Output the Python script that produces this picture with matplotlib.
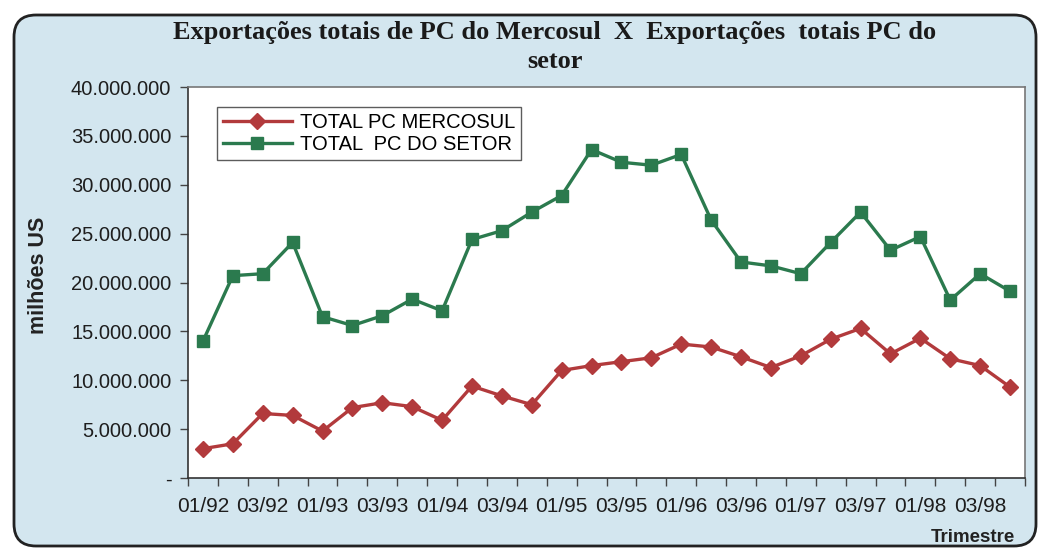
import matplotlib
matplotlib.use("Agg")
import matplotlib.pyplot as plt
from matplotlib.patches import FancyBboxPatch
from matplotlib.ticker import FuncFormatter

# quarterly values (US$), 01/92 .. 04/98
quarters = ["01/92", "02/92", "03/92", "04/92", "01/93", "02/93", "03/93", "04/93",
            "01/94", "02/94", "03/94", "04/94", "01/95", "02/95", "03/95", "04/95",
            "01/96", "02/96", "03/96", "04/96", "01/97", "02/97", "03/97", "04/97",
            "01/98", "02/98", "03/98", "04/98"]
mercosul = [3.0e6, 3.5e6, 6.6e6, 6.4e6, 4.8e6, 7.2e6, 7.7e6, 7.3e6,
            5.9e6, 9.4e6, 8.4e6, 7.5e6, 11.0e6, 11.5e6, 11.9e6, 12.3e6,
            13.7e6, 13.4e6, 12.4e6, 11.3e6, 12.5e6, 14.2e6, 15.3e6, 12.7e6,
            14.3e6, 12.2e6, 11.5e6, 9.3e6]
setor = [14.0e6, 20.7e6, 20.9e6, 24.1e6, 16.5e6, 15.6e6, 16.6e6, 18.3e6,
         17.1e6, 24.4e6, 25.3e6, 27.2e6, 28.9e6, 33.6e6, 32.3e6, 32.0e6,
         33.1e6, 26.4e6, 22.1e6, 21.7e6, 20.9e6, 24.1e6, 27.2e6, 23.3e6,
         24.7e6, 18.2e6, 20.9e6, 19.1e6]
yticks = [0, 5e6, 10e6, 15e6, 20e6, 25e6, 30e6, 35e6, 40e6]

RED = "#b23a3c"
GREEN = "#2b7a4e"
BG = "#d3e6ef"
SANS = "Liberation Sans"

W, H = 1056, 554
fig = plt.figure(figsize=(W / 100, H / 100), dpi=100)

# background panel (pixel coordinates)
bg = fig.add_axes([0, 0, 1, 1])
bg.set_xlim(0, W); bg.set_ylim(H, 0); bg.axis("off")
bg.add_patch(FancyBboxPatch((14, 15), W - 20 - 14, H - 8 - 15,
             boxstyle="round,pad=0,rounding_size=22",
             fc=BG, ec="#222222", lw=2.0))

ax = fig.add_axes([188 / W, 1 - 478 / H, (1025 - 188) / W, (478 - 87) / H])
x = list(range(len(quarters)))
ax.plot(x, mercosul, color=RED, lw=2.4, marker="D", ms=8.5, label="TOTAL PC MERCOSUL")
ax.plot(x, setor, color=GREEN, lw=2.4, marker="s", ms=8.5, label="TOTAL  PC DO SETOR")

ax.set_xlim(-0.5, len(quarters) - 0.5)
ax.set_ylim(0, 40e6)
ax.set_yticks(yticks)
ax.yaxis.set_major_formatter(FuncFormatter(
    lambda v, p: "-" if v == 0 else f"{int(v):,}".replace(",", ".")))
ax.set_xticks(x[::2])
ax.set_xticklabels(quarters[::2])
ax.set_xticks([i + 0.5 for i in range(-1, len(quarters))], minor=True)
ax.tick_params(axis="x", which="major", length=0, pad=14, labelsize=15)
ax.tick_params(axis="x", which="minor", length=6, width=1, color="#444444")
ax.tick_params(axis="y", length=6, width=1, color="#444444", labelsize=14.5, pad=6)
for lab in ax.get_xticklabels() + ax.get_yticklabels():
    lab.set_family(SANS); lab.set_color("#1e1e1e")
for s in ax.spines.values():
    s.set_color("#777777"); s.set_linewidth(1.2)
ax.spines["bottom"].set_color("#333333")
ax.spines["left"].set_color("#333333")

leg = ax.legend(loc="upper left", bbox_to_anchor=(29 / 837, 1 - 20 / 391),
                borderaxespad=0, frameon=True, fancybox=False, edgecolor="#333333",
                prop={"family": SANS, "size": 14.5}, handlelength=3.4,
                borderpad=0.3, labelspacing=0.15, handletextpad=0.4)
leg.get_frame().set_linewidth(1.0)

fig.text(555 / W, 1 - 32 / H,
         "Exportações totais de PC do Mercosul  X  Exportações  totais PC do",
         ha="center", va="center", family="Liberation Serif", weight="bold",
         fontsize=19, color="#1a1a1a")
fig.text(555 / W, 1 - 62 / H, "setor", ha="center", va="center",
         family="Liberation Serif", weight="bold", fontsize=19, color="#1a1a1a")
fig.text(38 / W, 1 - 275 / H, "milhões US", rotation=90, ha="center", va="center",
         family=SANS, weight="bold", fontsize=15.5, color="#222222")
fig.text(1015 / W, 1 - 537 / H, "Trimestre", ha="right", va="center",
         family=SANS, weight="bold", fontsize=13.5, color="#222222")

fig.savefig("out.png", dpi=100, facecolor="white")
